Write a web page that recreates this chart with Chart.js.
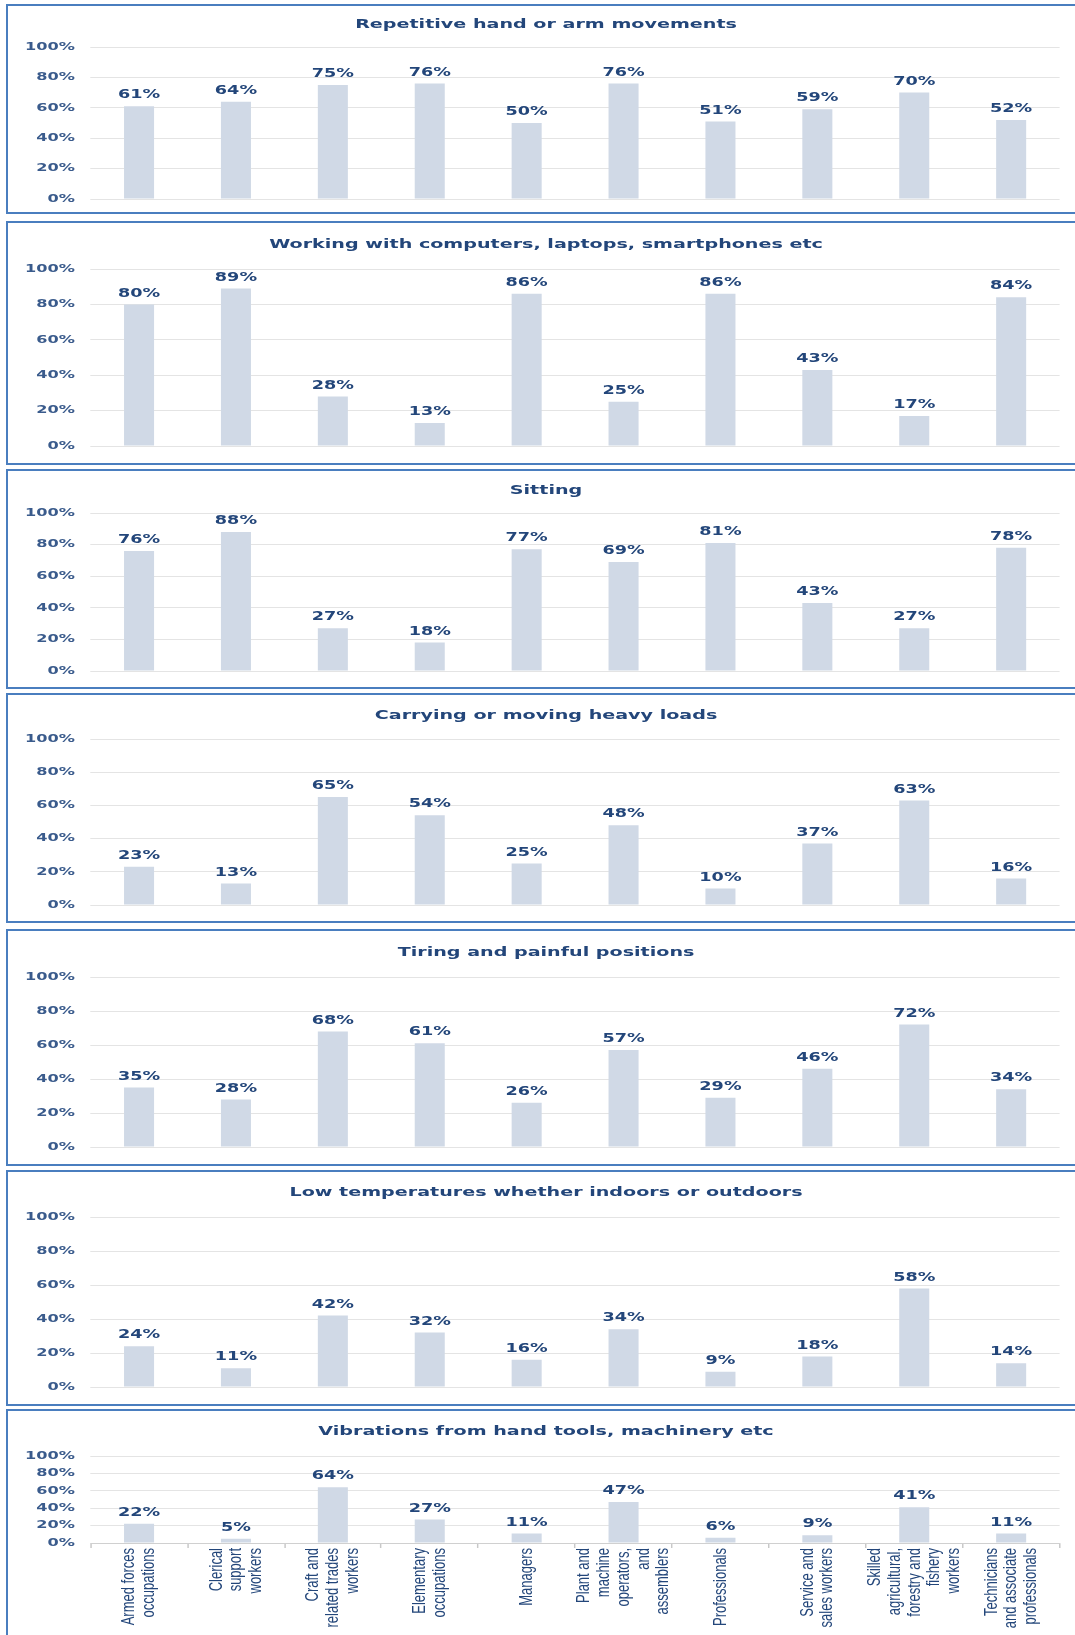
<!DOCTYPE html>
<html>
<head>
<meta charset="utf-8">
<title>Physical risk factors by occupation</title>
<script src="https://cdn.jsdelivr.net/npm/chart.js"></script>
<style>
  body { margin: 0; background: #fff; width: 1075px; height: 1635px; overflow: hidden; position: relative; }
  .panel { position: absolute; left: 6px; width: 1076px; border: 2px solid #4a7ebf; background: #fff; }
  .panel canvas { position: absolute; left: 0; top: 0; }
</style>
</head>
<body>
<script>
// categories (ISCO major groups), split into lines the way the axis shows them
const categories = [
    'Armed forces occupations', 'Clerical support workers', 'Craft and related trades workers',
    'Elementary occupations', 'Managers', 'Plant and machine operators, and assemblers',
    'Professionals', 'Service and sales workers', 'Skilled agricultural, forestry and fishery workers',
    'Technicians and associate professionals'
];
const categoryLines = [
    ['Armed forces', 'occupations'],
    ['Clerical', 'support', 'workers'],
    ['Craft and', 'related trades', 'workers'],
    ['Elementary', 'occupations'],
    ['Managers'],
    ['Plant and', 'machine', 'operators,', 'and', 'assemblers'],
    ['Professionals'],
    ['Service and', 'sales workers'],
    ['Skilled', 'agricultural,', 'forestry and', 'fishery', 'workers'],
    ['Technicians', 'and associate', 'professionals']
];

const titles = [
    'Repetitive hand or arm movements',
    'Working with computers, laptops, smartphones etc',
    'Sitting',
    'Carrying or moving heavy loads',
    'Tiring and painful positions',
    'Low temperatures whether indoors or outdoors',
    'Vibrations from hand tools, machinery etc'
];

const repetitive = [61, 64, 75, 76, 50, 76, 51, 59, 70, 52];
const computers  = [80, 89, 28, 13, 86, 25, 86, 43, 17, 84];
const sitting    = [76, 88, 27, 18, 77, 69, 81, 43, 27, 78];
const heavyLoads = [23, 13, 65, 54, 25, 48, 10, 37, 63, 16];
const tiring     = [35, 28, 68, 61, 26, 57, 29, 46, 72, 34];
const lowTemps   = [24, 11, 42, 32, 16, 34, 9, 18, 58, 14];
const vibrations = [22, 5, 64, 27, 11, 47, 6, 9, 41, 11];

const seriesList = [repetitive, computers, sitting, heavyLoads, tiring, lowTemps, vibrations];
const yTicks = [0, 20, 40, 60, 80, 100];

// layout of the boxes on the page (screen px): top, height, title middle, 100% line, 0% line
const panelTop    = [4, 221, 469, 693, 929, 1170, 1409];
const panelHeight = [210, 244, 220, 230, 237, 236, 240];
const titleMid    = [25, 245, 491, 716, 953, 1193, 1432];
const plotTop     = [47, 269, 513, 739, 977, 1217, 1456];
const plotBottom  = [199, 446, 671, 905, 1147, 1387, 1543];

const S = 1.47;            // the original picture is stretched sideways
const innerW = 1076;
const canvasW = Math.round(innerW / S);
const plotLeft = (90.6 - 8) / S;
const plotRight = (1059.6 - 8) / S;

const textDark = '#23467a';
const tickColor = '#3a5b8c';
const barColor = '#d0d9e6';
const gridColor = '#e4e4e4';
const valueFont = '"DejaVu Sans", Verdana, sans-serif';
const labelFont = '"Liberation Sans Narrow", "Liberation Sans", Arial, sans-serif';

const valueLabels = {
    id: 'valueLabels',
    afterDatasetsDraw(chart) {
        const ctx = chart.ctx;
        const meta = chart.getDatasetMeta(0);
        const data = chart.data.datasets[0].data;
        ctx.save();
        ctx.font = 'bold 12px ' + valueFont;
        ctx.fillStyle = textDark;
        ctx.textAlign = 'center';
        ctx.textBaseline = 'bottom';
        meta.data.forEach((bar, i) => {
            ctx.fillText(data[i] + '%', bar.x, bar.y - 5);
        });
        ctx.restore();
    }
};

// rotated category names, lines centred on each tick
const categoryLabels = {
    id: 'categoryLabels',
    afterDraw(chart) {
        const ctx = chart.ctx;
        const xs = chart.scales.x;
        const top = chart.chartArea.bottom + 5;
        const lh = 13.4;
        ctx.save();
        ctx.font = '13px ' + labelFont;
        ctx.fillStyle = textDark;
        ctx.textAlign = 'right';
        ctx.textBaseline = 'middle';
        categoryLines.forEach((lines, i) => {
            const x = xs.getPixelForValue(i);
            lines.forEach((line, j) => {
                ctx.save();
                ctx.translate(x + (j - (lines.length - 1) / 2) * lh, top);
                ctx.rotate(-Math.PI / 2);
                ctx.fillText(line, 0, 0);
                ctx.restore();
            });
        });
        ctx.restore();
    }
};

function makePanel(idx) {
    const last = idx === seriesList.length - 1;
    const innerTop = panelTop[idx] + 2;
    const h = panelHeight[idx] - 4;
    const tMid = titleMid[idx] - innerTop;
    const pTop = plotTop[idx] - innerTop;
    const pBottom = plotBottom[idx] - innerTop;

    const div = document.createElement('div');
    div.className = 'panel';
    div.style.top = panelTop[idx] + 'px';
    div.style.height = h + 'px';
    const canvas = document.createElement('canvas');
    canvas.setAttribute('width', canvasW);
    canvas.setAttribute('height', h);
    canvas.style.width = innerW + 'px';
    canvas.style.height = h + 'px';
    div.appendChild(canvas);
    document.body.appendChild(div);

    // x axis always takes the strip below the plot; only the last box shows it
    const xScale = {
        display: true,
        afterFit: (scale) => { scale.height = h - pBottom; },
        ticks: { display: false },
        grid: { display: last, drawOnChartArea: false, drawTicks: true, tickLength: 5, color: '#c8c8c8' },
        border: { display: last, color: '#d0d0d0' }
    };

    const chart = new Chart(canvas.getContext('2d'), {
        type: 'bar',
        data: {
            labels: categories,
            datasets: [{
                data: seriesList[idx],
                backgroundColor: barColor,
                borderWidth: 0,
                categoryPercentage: 1,
                barPercentage: 0.31
            }]
        },
        options: {
            responsive: false,
            maintainAspectRatio: false,
            animation: false,
            events: [],
            layout: { padding: 0 },
            scales: {
                y: {
                    min: 0,
                    max: 100,
                    afterBuildTicks: (scale) => { scale.ticks = yTicks.map(v => ({ value: v })); },
                    afterFit: (scale) => { scale.width = plotLeft; },
                    ticks: {
                        callback: v => v + '%',
                        color: tickColor,
                        padding: 0,
                        font: { family: valueFont, size: 11, weight: 'bold' }
                    },
                    grid: { color: gridColor, drawTicks: true, tickLength: 10.6, tickColor: 'rgba(0,0,0,0)' },
                    border: { display: false }
                },
                // empty strip on the right so the title stays centred on the whole box
                yRight: {
                    position: 'right',
                    afterFit: (scale) => { scale.width = canvasW - plotRight; },
                    ticks: { display: false },
                    grid: { display: false },
                    border: { display: false }
                },
                x: xScale
            },
            plugins: {
                legend: { display: false },
                tooltip: { enabled: false },
                title: {
                    display: true,
                    text: titles[idx],
                    color: textDark,
                    font: { family: valueFont, size: 13, weight: 'bold', lineHeight: 1.2 },
                    padding: { top: tMid - 7.8, bottom: pTop - tMid - 7.8 }
                }
            }
        },
        plugins: last ? [valueLabels, categoryLabels] : [valueLabels]
    });

    // redraw at full width with a sideways stretch, like the source picture
    canvas.width = innerW;
    chart.ctx.setTransform(S, 0, 0, 1, 0, 0);
    chart.draw();
}

for (let i = 0; i < seriesList.length; i++) {
    makePanel(i);
}
</script>
</body>
</html>
